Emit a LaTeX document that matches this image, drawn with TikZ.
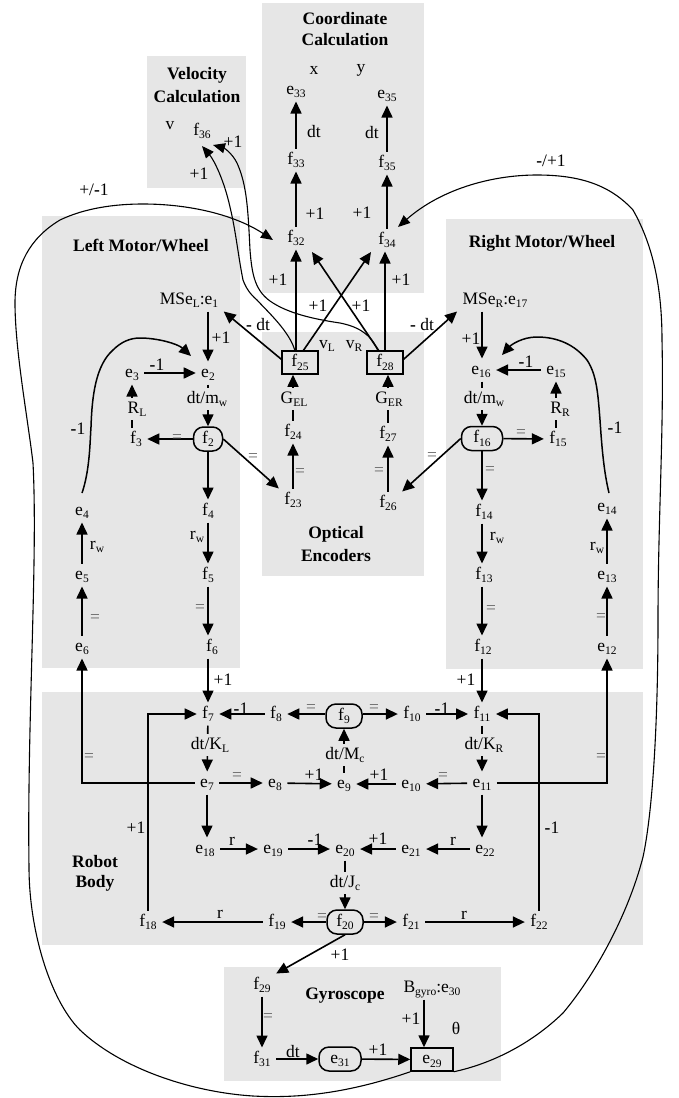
\documentclass[tikz,border=0pt]{standalone}
\usepackage{fontspec}
\setmainfont{Liberation Serif}
\usetikzlibrary{arrows.meta}
\newcommand\sbs[1]{\raisebox{-0.2em}{\fontsize{11.5}{11.5}\selectfont #1}}
\newcommand\bh{{\bfseries -}}
\definecolor{panel}{RGB}{230,230,230}
\tikzset{
 x=1pt,y=-1pt,
 every node/.style={font=\fontsize{17.5}{19}\selectfont,text=black},
 nd/.style={inner xsep=5.5pt,inner ysep=4.5pt,outer sep=0pt,text height=11pt,text depth=3pt},
 rd/.style={draw,line width=1.5pt,rounded corners=10pt,minimum height=24pt,inner sep=0pt,text height=11pt,text depth=3pt},
 bx/.style={draw,line width=1.5pt,minimum height=23pt,inner sep=0pt,text height=11pt,text depth=3pt},
 lb/.style={inner sep=0pt},
 cut/.style={fill=panel,inner xsep=1pt,inner ysep=4pt,text height=11pt,text depth=3pt},
 eq/.style={inner sep=0pt,text=black!60},
 ttl/.style={inner sep=0pt,font=\fontsize{17.5}{19}\selectfont\bfseries},
 pn/.style={fill=panel,draw=none},
 ar/.style={line width=1.6pt,-{Triangle[length=12pt,width=11pt]}},
 cv/.style={line width=1.5pt,-{Triangle[length=12pt,width=11pt]}},
 thincv/.style={line width=1.1pt,-{Triangle[length=12pt,width=10pt]}},
}
\begin{document}
\begin{tikzpicture}
\useasboundingbox (0,0) rectangle (678,1098);
% panels
\fill[pn] (147,56) rectangle (246,188);
\fill[pn] (262,3) rectangle (424,293);
\fill[pn] (42,216) rectangle (240,668);
\fill[pn] (262,332) rectangle (424,576);
\fill[pn] (446,219) rectangle (643,669);
\fill[pn] (42,692) rectangle (643,945);
\fill[pn] (224,967) rectangle (501,1081);
% titles
\node[ttl] (tv1) at (197,75) {Velocity};
\node[ttl] (tv2) at (197,97) {Calculation};
\node[ttl] (tc1) at (345,19) {Coordinate};
\node[ttl] (tc2) at (345,40) {Calculation};
\node[ttl] (tl) at (141,245) {Left Motor/Wheel};
\node[ttl] (tr) at (542,243) {Right Motor/Wheel};
\node[ttl] (to1) at (336,534) {Optical};
\node[ttl] (to2) at (336,556) {Encoders};
\node[ttl] (tb1) at (95,862) {Robot};
\node[ttl] (tb2) at (95,883) {Body};
\node[ttl] (tg) at (345,996) {Gyroscope};
% nodes: top
\node[nd] (e33) at (296,90) {e\sbs{33}};
\node[nd] (e35) at (387,94) {e\sbs{35}};
\node[nd] (f33) at (296,160) {f\sbs{33}};
\node[nd] (f35) at (387,163) {f\sbs{35}};
\node[nd] (f32) at (296,238) {f\sbs{32}};
\node[nd] (f34) at (387,240) {f\sbs{34}};
\node[nd] (f36) at (202,131) {f\sbs{36}};
\node[lb] (lx) at (314,70) {x};
\node[lb] (ly) at (361,70) {y};
\node[lb] (lv) at (170,126) {v};
% encoders
\node[bx,minimum width=36pt] (f25) at (300,362.5) {f\sbs{25}};
\node[bx,minimum width=36pt] (f28) at (385,362.5) {f\sbs{28}};
\node[nd] (f24) at (293,432) {f\sbs{24}};
\node[nd] (f23) at (293,500) {f\sbs{23}};
\node[nd] (f27) at (388,434) {f\sbs{27}};
\node[nd] (f26) at (388,503) {f\sbs{26}};
\node[lb] (vl) at (327,346) {v\sbs{L}};
\node[lb] (vr) at (354,346) {v\sbs{R}};
% left
\node[nd] (e1) at (189,300) {MSe\sbs{L}:e\sbs{1}};
\node[nd] (e2) at (208,373) {e\sbs{2}};
\node[nd] (e3) at (132,373) {e\sbs{3}};
\node[nd] (f3) at (136,439) {f\sbs{3}};
\node[rd,minimum width=29pt] (f2) at (208,439) {f\sbs{2}};
\node[nd] (f4) at (208,511) {f\sbs{4}};
\node[nd] (f5) at (208,575) {f\sbs{5}};
\node[nd] (f6) at (212,647) {f\sbs{6}};
\node[nd] (e4) at (82,511) {e\sbs{4}};
\node[nd] (e5) at (82,575) {e\sbs{5}};
\node[nd] (e6) at (82,647) {e\sbs{6}};
% right
\node[nd] (e17) at (495,300) {MSe\sbs{R}:e\sbs{17}};
\node[nd] (e16) at (481,370) {e\sbs{16}};
\node[nd] (e15) at (556,370) {e\sbs{15}};
\node[nd] (f15) at (558,439) {f\sbs{15}};
\node[rd,minimum width=41pt] (f16) at (482,438.5) {f\sbs{16}};
\node[nd] (f14) at (484,512) {f\sbs{14}};
\node[nd] (f13) at (484,575) {f\sbs{13}};
\node[nd] (f12) at (483,647) {f\sbs{12}};
\node[nd] (e14) at (607,507) {e\sbs{14}};
\node[nd] (e13) at (607,575) {e\sbs{13}};
\node[nd] (e12) at (607,647) {e\sbs{12}};
% robot
\node[nd] (f7) at (208,714) {f\sbs{7}};
\node[nd] (f8) at (276,714) {f\sbs{8}};
\node[rd,minimum width=36pt] (f9) at (344,716) {f\sbs{9}};
\node[nd] (f10) at (412,714) {f\sbs{10}};
\node[nd] (f11) at (482,714) {f\sbs{11}};
\node[nd] (e7) at (207,783) {e\sbs{7}};
\node[nd] (e8) at (275,783) {e\sbs{8}};
\node[nd] (e9) at (344,784) {e\sbs{9}};
\node[nd] (e10) at (411,784) {e\sbs{10}};
\node[nd] (e11) at (482,783) {e\sbs{11}};
\node[nd] (e18) at (205,849) {e\sbs{18}};
\node[nd] (e19) at (273,849) {e\sbs{19}};
\node[nd] (e20) at (345,849) {e\sbs{20}};
\node[nd] (e21) at (411,849) {e\sbs{21}};
\node[nd] (e22) at (485,849) {e\sbs{22}};
\node[nd] (f18) at (148,922) {f\sbs{18}};
\node[nd] (f19) at (277,922) {f\sbs{19}};
\node[rd,minimum width=36pt] (f20) at (345,922) {f\sbs{20}};
\node[nd] (f21) at (411,922) {f\sbs{21}};
\node[nd] (f22) at (539,922) {f\sbs{22}};
% gyro
\node[nd] (f29) at (262,985) {f\sbs{29}};
\node[nd] (f31) at (262,1059) {f\sbs{31}};
\node[rd,minimum width=42pt] (e31) at (340,1059) {e\sbs{31}};
\node[bx,minimum width=42pt] (e29) at (432,1059.5) {e\sbs{29}};
\node[nd] (e30) at (432,988) {B\sbs{gyro}:e\sbs{30}};
\node[lb] (th) at (456,1028) {θ};
% helper coordinates
\coordinate (gx) at (424,0);
\coordinate (cl) at (273,240);
\coordinate (cr) at (398,227);
\coordinate (a1) at (295,351);
\coordinate (b1) at (378,351);
\coordinate (a2) at (202,146);
\coordinate (b2) at (213,145);
\coordinate (ce4) at (82,493);
\coordinate (ce2) at (191,356);
\coordinate (ce14) at (609,493);
\coordinate (ce16) at (502,355);
\coordinate (t25) at (303,351);
\coordinate (t28) at (379,351);
\coordinate (t32) at (312,252);
\coordinate (t34) at (371,252);
% long curves
\draw[thincv] (e29.south west) .. controls (340,1096) and (290,1098) .. (253,1096)
  .. controls (190,1092) and (120,1068) .. (80,1030)
  .. controls (50,1000) and (29,930) .. (29,867)
  .. controls (27,720) and (38,560) .. (33,463)
  .. controls (28,420) and (15,350) .. (15,303)
  .. controls (15,265) and (30,238) .. (60,220)
  .. controls (85,208) and (115,204) .. (143,204)
  .. controls (190,204) and (235,215) .. (cl);
\draw[thincv] (e29.south east) .. controls (490,1064) and (530,1045) .. (563,1013)
  .. controls (595,975) and (628,915) .. (643,857)
  .. controls (653,810) and (658,720) .. (658,620)
  .. controls (658,520) and (664,430) .. (662,340)
  .. controls (662,280) and (650,240) .. (633,210)
  .. controls (610,185) and (580,175) .. (537,175)
  .. controls (490,175) and (440,190) .. (cr);
\draw[thincv] (a1) .. controls (290,332) and (268,312) .. (257,300)
  .. controls (250,294) and (246,288) .. (243,280)
  .. controls (238,255) and (236,232) .. (230,207)
  .. controls (224,180) and (214,160) .. (a2);
\draw[thincv] (b1) .. controls (370,330) and (350,325) .. (340,323)
  .. controls (320,320) and (292,315) .. (273,303)
  .. controls (255,292) and (252,275) .. (250,250)
  .. controls (248,210) and (247,185) .. (237,163)
  .. controls (232,153) and (224,148) .. (b2);
\draw[cv] (ce4) .. controls (90,470) and (90,440) .. (91,427)
  .. controls (92,395) and (96,365) .. (113,350)
  .. controls (121,342) and (130,338) .. (140,338)
  .. controls (158,338) and (178,344) .. (ce2);
\draw[cv] (ce14) .. controls (604,472) and (602,450) .. (600,420)
  .. controls (598,395) and (597,375) .. (587,360)
  .. controls (575,345) and (558,337) .. (537,337)
  .. controls (522,337) and (511,345) .. (ce16);
% top edges
\draw[ar] (f33) -- (e33);
\draw[ar] (f35) -- (e35);
\draw[ar] (f32) -- (f33);
\draw[ar] (f34) -- (f35);
\draw[ar] (f32.south |- f25.north) -- (f32.south);
\draw[ar] (f28.north) -- (f28.north |- f34.south);
\draw[ar] (t25) -- (t34);
\draw[ar] (t28) -- (t32);
\draw[ar] (f25.170) -- (e1.south east);
\draw[ar] (f28.10) -- (e17.south west);
% encoders edges
\draw[ar] (f23) -- (f24);
\draw[ar] (f26) -- (f27);
\draw[ar] (f24) -- (f24 |- f25.south);
\draw[ar] (f27) -- (f27 |- f28.south);
\draw[ar] (f2.east) -- (f23.north west);
\draw[ar] (f16.west) -- (f26.north east);
% left edges
\draw[ar] (e1.south -| e2) -- (e2);
\draw[ar] (e3) -- (e2);
\draw[ar] (f3.north -| e3) -- (e3);
\draw[ar] (f2) -- (f3);
\draw[ar] (e2) -- (f2);
\draw[ar] (f2) -- (f4);
\draw[ar] (f4) -- (f5);
\draw[ar] (f5) -- (f5 |- f6.north);
\draw[ar] (f6.south -| f7) -- (f7);
\draw[ar] (e6) -- (e5);
\draw[ar] (e5) -- (e4);
% right edges
\draw[ar] (e17.south -| f16) -- (f16 |- e16.north);
\draw[ar] (e15) -- (e16);
\draw[ar] (f16) -- (f15);
\draw[ar] (f15.north -| e15) -- (e15);
\draw[ar] (f16 |- e16.south) -- (f16);
\draw[ar] (f16) -- (f16 |- f14.north);
\draw[ar] (f16 |- f14.south) -- (f16 |- f13.north);
\draw[ar] (f16 |- f13.south) -- (f16 |- f12.north);
\draw[ar] (f12.south -| f11) -- (f11);
\draw[ar] (e12) -- (e13);
\draw[ar] (e13) -- (e14);
% robot edges
\draw[ar] (f7) -- (e7);
\draw[ar] (f11) -- (e11);
\draw[ar] (f8) -- (f7);
\draw[ar] (f9.west |- f8) -- (f8);
\draw[ar] (f9.east |- f10) -- (f10);
\draw[ar] (f10) -- (f11);
\draw[ar] (e7) -- (e8);
\draw[ar] (e8) -- (e9);
\draw[ar] (e11) -- (e10);
\draw[ar] (e10) -- (e9);
\draw[ar] (e9) -- (f9);
\draw[ar] (e7) -- (e7 |- e18.north);
\draw[ar] (e11) -- (e11 |- e22.north);
\draw[ar] (e18) -- (e19);
\draw[ar] (e19) -- (e20);
\draw[ar] (e22) -- (e21);
\draw[ar] (e21) -- (e20);
\draw[ar] (e20) -- (f20);
\draw[ar] (f20) -- (f19);
\draw[ar] (f19) -- (f18);
\draw[ar] (f20) -- (f21);
\draw[ar] (f21) -- (f22);
\draw[ar] (f18.north) |- (f7.west);
\draw[ar] (f22.north) |- (f11.east);
\draw[ar] (e7.west) -| (e6.south);
\draw[ar] (e11.east) -| (e12.south);
\draw[ar] (f20.south) -- (f29.north east);
% gyro edges
\draw[ar] (f29) -- (f31);
\draw[ar] (f31) -- (e31);
\draw[ar] (e31) -- (e29);
\draw[ar] (e30.south -| gx) -- (e29.north -| gx);
% cut labels
\node[cut] (l01) at (207,399) {dt/m\sbs{w}};
\node[cut] (l02) at (137,409) {R\sbs{L}};
\node[cut] (l03) at (294,399) {G\sbs{EL}};
\node[cut] (l04) at (389,399) {G\sbs{ER}};
\node[cut] (l05) at (484,399) {dt/m\sbs{w}};
\node[cut] (l06) at (560,409) {R\sbs{R}};
\node[cut] (l07) at (210,745) {dt/K\sbs{L}};
\node[cut] (l08) at (484,745) {dt/K\sbs{R}};
\node[cut] (l09) at (345,755) {dt/M\sbs{c}};
\node[cut] (l10) at (345,883) {dt/J\sbs{c}};
% plain labels
\node[lb] (m01) at (314,132) {dt};
\node[lb] (m02) at (372,133) {dt};
\node[lb] (m03) at (315,214) {+1};
\node[lb] (m04) at (362,213) {+1};
\node[lb] (m05) at (278,280) {+1};
\node[lb] (m06) at (401,280) {+1};
\node[lb] (m07) at (318,306) {+1};
\node[lb] (m08) at (361,306) {+1};
\node[lb] (m09) at (233,142) {+1};
\node[lb] (m10) at (199,174) {+1};
\node[lb] (m11) at (94,190) {+/\bh 1};
\node[lb] (m12) at (551,161) {\bh /+1};
\node[lb] (m13) at (221,338) {+1};
\node[lb] (m14) at (258,325) {\bh\ dt};
\node[lb] (m15) at (157,365) {\bh 1};
\node[lb] (m16) at (78,429) {\bh 1};
\node[lb] (m17) at (97,547) {r\sbs{w}};
\node[lb] (m18) at (197,537) {r\sbs{w}};
\node[lb] (m19) at (223,680) {+1};
\node[lb] (m20) at (471,339) {+1};
\node[lb] (m21) at (422,325) {\bh\ dt};
\node[lb] (m22) at (526,362) {\bh 1};
\node[lb] (m23) at (615,428) {\bh 1};
\node[lb] (m24) at (497,538) {r\sbs{w}};
\node[lb] (m25) at (597,548) {r\sbs{w}};
\node[lb] (m26) at (466,680) {+1};
\node[lb] (m27) at (241,709) {\bh 1};
\node[lb] (m28) at (442,709) {\bh 1};
\node[lb] (m29) at (314,775) {+1};
\node[lb] (m30) at (379,775) {+1};
\node[lb] (m31) at (232,841) {r};
\node[lb] (m32) at (315,840) {\bh 1};
\node[lb] (m33) at (378,839) {+1};
\node[lb] (m34) at (453,841) {r};
\node[lb] (m35) at (220,914) {r};
\node[lb] (m36) at (464,915) {r};
\node[lb] (m37) at (136,828) {+1};
\node[lb] (m38) at (552,828) {\bh 1};
\node[lb] (m39) at (340,955) {+1};
\node[lb] (m40) at (293,1052) {dt};
\node[lb] (m41) at (378,1050) {+1};
\node[lb] (m42) at (411,1019) {+1};
% equals labels
\node[eq] (q01) at (177,438) {=};
\node[eq] (q02) at (253,457) {=};
\node[eq] (q03) at (300,472) {=};
\node[eq] (q04) at (95,618) {=};
\node[eq] (q05) at (200,608) {=};
\node[eq] (q06) at (521,433) {=};
\node[eq] (q07) at (432,456) {=};
\node[eq] (q08) at (379,471) {=};
\node[eq] (q09) at (490,470) {=};
\node[eq] (q10) at (491,609) {=};
\node[eq] (q11) at (601,617) {=};
\node[eq] (q12) at (311,708) {=};
\node[eq] (q13) at (374,708) {=};
\node[eq] (q14) at (237,776) {=};
\node[eq] (q15) at (443,776) {=};
\node[eq] (q16) at (89,757) {=};
\node[eq] (q17) at (601,757) {=};
\node[eq] (q18) at (322,917) {=};
\node[eq] (q19) at (374,917) {=};
\node[eq] (q20) at (268,1017) {=};
\end{tikzpicture}
\end{document}
